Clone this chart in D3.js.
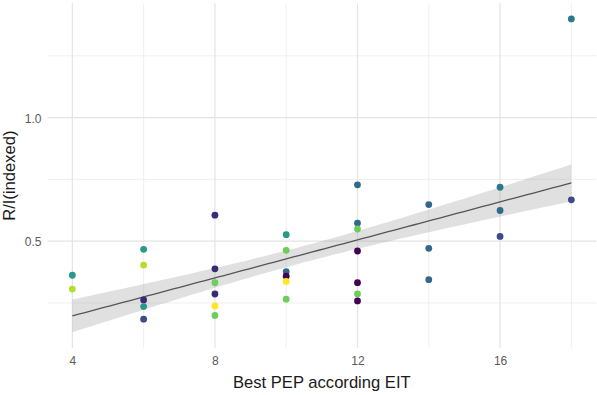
<!DOCTYPE html>
<html>
<head>
<meta charset="utf-8">
<script src="https://cdn.jsdelivr.net/npm/d3@7"></script>
<style>
  html, body { margin: 0; padding: 0; background: #fff; }
  svg { display: block; font-family: "Liberation Sans", Arial, Helvetica, sans-serif; }
</style>
</head>
<body>
<svg id="chart" width="597" height="395"></svg>
<script>
// ---- data ----
const pepValues = [4,4, 6,6,6,6,6, 8,8,8,8,8,8, 10,10,10,10,10,10, 12,12,12,12,12,12,12, 14,14,14, 16,16,16, 18,18];
const riValues  = [0.362,0.306, 0.467,0.403,0.262,0.235,0.184,
                   0.605,0.388,0.332,0.286,0.238,0.199,
                   0.526,0.463,0.377,0.358,0.337,0.265,
                   0.728,0.573,0.549,0.460,0.332,0.286,0.258,
                   0.648,0.471,0.344,
                   0.718,0.624,0.519,
                   0.667,1.399];
const groupIds  = [5,8, 5,8,1,5,2,
                   1,1,7,1,9,7,
                   5,7,3,0,9,7,
                   3,3,7,0,0,7,0,
                   3,3,3,
                   4,3,2,
                   2,4];
const palette = ["#440154","#3b2a74","#3E4A89","#31688E","#2a7a8c","#28998a","#35B779","#6DCD59","#B4DE2C","#FDE725"];
const xTicks = [4, 8, 12, 16];
const xMinor = [6, 10, 14, 18];
const yTicks = [0.5, 1.0];
const yMinor = [0.25, 0.75, 1.25];
const xTitle = "Best PEP according EIT";
const yTitle = "R/I(indexed)";
const bandMultiplier = 1.10; // width of the shaded band in standard errors

// ---- linear model with band (geom_smooth(method = "lm")-like) ----
const n = pepValues.length;
const mx = d3.mean(pepValues), my = d3.mean(riValues);
let sxx = 0, sxy = 0;
for (let i = 0; i < n; i++) { sxx += (pepValues[i]-mx)**2; sxy += (pepValues[i]-mx)*(riValues[i]-my); }
const slope = sxy / sxx, intercept = my - slope * mx;
let sse = 0;
for (let i = 0; i < n; i++) sse += (riValues[i] - (intercept + slope*pepValues[i]))**2;
const s = Math.sqrt(sse / (n - 2));
const xr = d3.extent(pepValues);
const fitX = d3.range(80).map(i => xr[0] + (xr[1]-xr[0]) * i / 79);
const fit = fitX.map(x => {
  const yhat = intercept + slope * x;
  const se = s * Math.sqrt(1/n + (x-mx)**2 / sxx);
  return {x, y: yhat, lo: yhat - bandMultiplier*se, hi: yhat + bandMultiplier*se};
});

// ---- scales ----
const panel = {left: 47.4, right: 596.3, top: 3.3, bottom: 348};
const xPad = (xr[1]-xr[0]) * 0.05;
const yAll = riValues.concat(fit.map(d => d.lo), fit.map(d => d.hi));
const yr = d3.extent(yAll);
const yPad = (yr[1]-yr[0]) * 0.05;
const x = d3.scaleLinear().domain([xr[0]-xPad, xr[1]+xPad]).range([panel.left, panel.right]);
const y = d3.scaleLinear().domain([yr[0]-yPad, yr[1]+yPad]).range([panel.bottom, panel.top]);

const svg = d3.select("#chart");

// grid
const g = svg.append("g");
g.selectAll("line.ymin").data(yMinor).join("line")
  .attr("x1", panel.left).attr("x2", panel.right)
  .attr("y1", d => y(d)).attr("y2", d => y(d))
  .attr("stroke", "#ebebeb").attr("stroke-width", 0.8);
g.selectAll("line.xmin").data(xMinor).join("line")
  .attr("y1", panel.top).attr("y2", panel.bottom)
  .attr("x1", d => x(d)).attr("x2", d => x(d))
  .attr("stroke", "#ebebeb").attr("stroke-width", 0.8);
g.selectAll("line.ymaj").data(yTicks).join("line")
  .attr("x1", panel.left).attr("x2", panel.right)
  .attr("y1", d => y(d)).attr("y2", d => y(d))
  .attr("stroke", "#e4e4e4").attr("stroke-width", 1.2);
g.selectAll("line.xmaj").data(xTicks).join("line")
  .attr("y1", panel.top).attr("y2", panel.bottom)
  .attr("x1", d => x(d)).attr("x2", d => x(d))
  .attr("stroke", "#e4e4e4").attr("stroke-width", 1.2);

// axes (labels only, via d3 axis)
const xAxis = svg.append("g").attr("transform", `translate(0,${panel.bottom})`)
  .call(d3.axisBottom(x).tickValues(xTicks).tickSize(0).tickPadding(0).tickFormat(d3.format("d")));
xAxis.select(".domain").remove();
xAxis.selectAll("text").attr("y", 17).attr("dy", 0).attr("fill", "#5a5a5a").attr("font-size", 12)
  .attr("font-family", "Liberation Sans, Arial, sans-serif");

const yAxis = svg.append("g").attr("transform", `translate(${panel.left},0)`)
  .call(d3.axisLeft(y).tickValues(yTicks).tickSize(0).tickPadding(6).tickFormat(d3.format(".1f")));
yAxis.select(".domain").remove();
yAxis.selectAll("text").attr("fill", "#5a5a5a").attr("font-size", 12).attr("dy", "0.38em")
  .attr("font-family", "Liberation Sans, Arial, sans-serif");

// ribbon + line
svg.append("path").datum(fit)
  .attr("d", d3.area().x(d => x(d.x)).y0(d => y(d.lo)).y1(d => y(d.hi)))
  .attr("fill", "#999999").attr("fill-opacity", 0.3);
svg.append("path").datum(fit)
  .attr("d", d3.line().x(d => x(d.x)).y(d => y(d.y)))
  .attr("fill", "none").attr("stroke", "#555555").attr("stroke-width", 1.3);

// points
svg.append("g").selectAll("circle").data(pepValues.map((p, i) => ({p, r: riValues[i], g: groupIds[i]})))
  .join("circle")
  .attr("cx", d => x(d.p)).attr("cy", d => y(d.r)).attr("r", 3.4)
  .attr("fill", d => palette[d.g]);

// titles
svg.append("text").attr("x", (panel.left + panel.right) / 2).attr("y", 388)
  .attr("text-anchor", "middle").attr("font-size", 16.6).attr("fill", "#1a1a1a").text(xTitle);
svg.append("text")
  .attr("transform", `translate(14.5,${(panel.top + panel.bottom) / 2}) rotate(-90)`)
  .attr("text-anchor", "middle").attr("font-size", 16.6).attr("fill", "#1a1a1a").text(yTitle);
</script>
</body>
</html>
